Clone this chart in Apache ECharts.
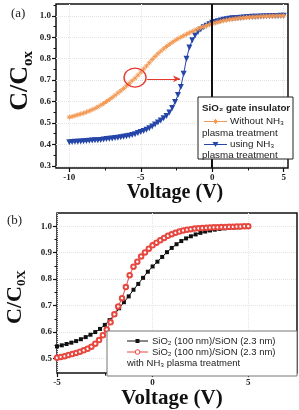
<!DOCTYPE html>
<html>
<head>
<meta charset="utf-8">
<script src="https://cdn.jsdelivr.net/npm/echarts@6/dist/echarts.min.js"></script>
<style>
  html,body{margin:0;padding:0;background:#fff;}
  #chart{width:299px;height:410px;}
</style>
</head>
<body>
<div id="chart"></div>
<script>
// panel (a): C/Cox vs gate voltage, SiO2 gate insulator
var voltA = [-10,-9.8,-9.6,-9.4,-9.2,-9,-8.8,-8.6,-8.4,-8.2,
  -8,-7.8,-7.6,-7.4,-7.2,-7,-6.8,-6.6,-6.4,-6.2,
  -6,-5.8,-5.6,-5.4,-5.2,-5,-4.8,-4.6,-4.4,-4.2,
  -4,-3.8,-3.6,-3.4,-3.2,-3,-2.8,-2.6,-2.4,-2.2,
  -2,-1.8,-1.6,-1.4,-1.2,-1,-0.8,-0.6,-0.4,-0.2,
  0,0.2,0.4,0.6,0.8,1,1.2,1.4,1.6,1.8,
  2,2.2,2.4,2.6,2.8,3,3.2,3.4,3.6,3.8,
  4,4.2,4.4,4.6,4.8,5];
var withoutNH3 = [0.527,0.530,0.534,0.538,0.542,0.546,0.551,0.556,0.562,0.568,
  0.575,0.583,0.591,0.600,0.609,0.619,0.629,0.640,0.650,0.661,
  0.673,0.685,0.697,0.709,0.723,0.737,0.752,0.766,0.781,0.796,
  0.810,0.823,0.835,0.846,0.857,0.867,0.876,0.885,0.893,0.900,
  0.907,0.914,0.921,0.927,0.933,0.939,0.944,0.949,0.954,0.959,
  0.963,0.967,0.971,0.974,0.977,0.980,0.982,0.984,0.986,0.988,
  0.990,0.991,0.992,0.993,0.994,0.995,0.996,0.997,0.997,0.998,
  0.998,0.999,0.999,1.000,1.000,1.001];
var usingNH3 = [0.410,0.411,0.412,0.413,0.414,0.415,0.416,0.417,0.418,0.419,
  0.420,0.421,0.423,0.425,0.426,0.428,0.430,0.431,0.433,0.436,
  0.438,0.441,0.444,0.448,0.453,0.458,0.463,0.469,0.476,0.484,
  0.493,0.502,0.512,0.522,0.533,0.549,0.570,0.598,0.630,0.668,
  0.730,0.800,0.852,0.886,0.908,0.924,0.936,0.946,0.954,0.961,
  0.967,0.971,0.975,0.978,0.981,0.984,0.986,0.988,0.989,0.990,
  0.991,0.992,0.993,0.994,0.995,0.996,0.996,0.997,0.997,0.998,
  0.998,0.999,0.999,0.999,1.000,1.000];

// panel (b): SiO2 (100 nm)/SiON (2.3 nm)
var voltB1 = [-5,-4.75,-4.5,-4.25,-4,-3.75,-3.5,-3.25,-3,-2.75,
  -2.5,-2.25,-2,-1.75,-1.5,-1.25,-1,-0.75,-0.5,-0.25,
  0,0.25,0.5,0.75,1,1.25,1.5,1.75,2,2.25,
  2.5,2.75,3,3.25,3.5,3.75,4,4.25,4.5,4.75,5];
var sion = [0.546,0.550,0.555,0.560,0.566,0.573,0.581,0.590,0.600,0.612,
  0.627,0.645,0.665,0.690,0.713,0.735,0.760,0.782,0.805,0.828,
  0.848,0.866,0.884,0.902,0.918,0.932,0.944,0.954,0.962,0.969,
  0.975,0.980,0.984,0.987,0.990,0.992,0.994,0.995,0.996,0.997,0.998];
var voltB2 = [-5,-4.8,-4.6,-4.4,-4.2,-4,-3.8,-3.6,-3.4,-3.2,
  -3,-2.8,-2.6,-2.4,-2.2,-2,-1.8,-1.6,-1.4,-1.2,
  -1,-0.8,-0.6,-0.4,-0.2,0,0.2,0.4,0.6,0.8,
  1,1.2,1.4,1.6,1.8,2,2.2,2.4,2.6,2.8,
  3,3.2,3.4,3.6,3.8,4,4.2,4.4,4.6,4.8,5];
var sionNH3 = [0.503,0.506,0.509,0.513,0.517,0.521,0.526,0.531,0.537,0.545,
  0.556,0.570,0.588,0.610,0.637,0.667,0.697,0.728,0.770,0.815,
  0.847,0.866,0.886,0.901,0.915,0.928,0.938,0.947,0.956,0.964,
  0.970,0.975,0.980,0.984,0.987,0.989,0.991,0.992,0.993,0.994,
  0.995,0.996,0.996,0.997,0.997,0.998,0.998,0.999,0.999,1.000,1.000];

// tick labels
var xTicksA = [-10,-5,0,5];
var xMinorA = [-7.5,-2.5,2.5];
var yTicksA = [0.3,0.4,0.5,0.6,0.7,0.8,0.9,1.0];
var yMinorA = [0.35,0.45,0.55,0.65,0.75,0.85,0.95,1.05];
var xTicksB = [-5,0,5];
var xMinorB = [-2.5,2.5,7.5];
var yTicksB = [0.5,0.6,0.7,0.8,0.9,1.0];
var yMinorB = [0.55,0.65,0.75,0.85,0.95];

// annotation in panel (a): circled point and arrow
var circleAt = [-5.4, 0.712];
var arrowFrom = [-4.55, 0.706];
var arrowTo = [-2.25, 0.706];

var serif = 'Liberation Serif';
var sans = 'Liberation Sans';
var ORANGE = '#f39a55', BLUE = '#2546a8', RED = '#e8473f';

function pairs(xs, ys){ return xs.map(function(x, i){ return [x, ys[i]]; }); }

function mainAxis(grid, pos, min, max, ticks, fmt){
  return {
    type:'value', gridIndex:grid, position:pos, min:min, max:max,
    axisLine:{show:false, onZero:false},
    axisTick:{show:true, customValues:ticks, length:4, lineStyle:{color:'#111', width:1.2}},
    axisLabel:{customValues:ticks, formatter:fmt, fontFamily:serif, fontWeight:'bold', fontSize:9, color:'#222', margin:5},
    splitLine:{show:true, lineStyle:{color:'#e4e4e4', type:'dotted'}}
  };
}
function minorAxis(grid, pos, min, max, ticks){
  return {
    type:'value', gridIndex:grid, position:pos, min:min, max:max,
    axisLine:{show:false, onZero:false},
    axisTick:{show:true, customValues:ticks, length:2.5, lineStyle:{color:'#111', width:1}},
    axisLabel:{show:false}, splitLine:{show:false}
  };
}
var fmt1 = function(v){ return v.toFixed(1); };
var fmt0 = function(v){ return String(v); };

var xA = mainAxis(0, 'bottom', -10.93, 5.3, xTicksA, fmt0);
xA.name = 'Voltage (V)'; xA.nameLocation = 'middle'; xA.nameGap = 13;
xA.nameTextStyle = {fontFamily:serif, fontWeight:'bold', fontSize:20, color:'#111', padding:[0,0,0,6]};
var xB = mainAxis(1, 'bottom', -5, 7.55, xTicksB, fmt0);
xB.name = 'Voltage (V)'; xB.nameLocation = 'middle'; xB.nameGap = 11;
xB.nameTextStyle = {fontFamily:serif, fontWeight:'bold', fontSize:21, color:'#111', padding:[0,10,0,0]};

function yName(x, y, main, sub, big, small){
  return {
    type:'group', x:x, y:y, rotation:Math.PI/2,
    children:[
      {type:'text', style:{text:main, x:0, y:0, fontFamily:serif, fontWeight:'bold', fontSize:big, fill:'#111', align:'right', verticalAlign:'middle'}},
      {type:'text', style:{text:sub, x:0, y:big*0.3, fontFamily:serif, fontWeight:'bold', fontSize:small, fill:'#111', align:'left', verticalAlign:'middle'}}
    ]
  };
}
function txt(t, x, y, size, bold){
  return {type:'text', z:101, style:{text:t, x:x, y:y, fontFamily:sans, fontWeight:bold ? 'bold' : 'normal', fontSize:size, fill:'#222', verticalAlign:'middle'}};
}
function seg(x1, y1, x2, y2, color){
  return {type:'line', z:101, shape:{x1:x1, y1:y1, x2:x2, y2:y2}, style:{stroke:color, lineWidth:1}};
}

var legendA = {
  type:'group', z:100,
  children:[
    {type:'rect', z:100, shape:{x:198, y:97, width:95, height:62}, style:{fill:'#fff', stroke:'#222', lineWidth:1}},
    txt('SiO\u2082 gate insulator', 202, 108, 9.8, true),
    seg(204, 121.5, 227, 121.5, ORANGE),
    seg(215.5, 119, 215.5, 124, ORANGE),
    seg(213.7, 119.7, 217.3, 123.3, ORANGE),
    seg(213.7, 123.3, 217.3, 119.7, ORANGE),
    txt('Without NH\u2083', 230, 121.5, 9.8),
    txt('plasma treatment', 202, 133, 9.8),
    seg(204, 144.5, 227, 144.5, BLUE),
    {type:'polygon', z:101, shape:{points:[[212.5,142],[218.5,142],[215.5,147]]}, style:{fill:BLUE}},
    txt('using NH\u2083', 230, 144.5, 9.8),
    txt('plasma treatment', 202, 155, 9.8)
  ]
};
var legendB = {
  type:'group', z:100,
  children:[
    {type:'rect', z:100, shape:{x:107, y:331, width:190, height:45}, style:{fill:'#fff', stroke:'#777', lineWidth:1}},
    seg(127, 341, 148, 341, '#111'),
    {type:'rect', z:101, shape:{x:135.5, y:339, width:4, height:4}, style:{fill:'#111'}},
    txt('SiO\u2082 (100 nm)/SiON (2.3 nm)', 152, 341, 9.5),
    seg(127, 352, 148, 352, RED),
    {type:'circle', z:101, shape:{cx:137.5, cy:352, r:2.3}, style:{fill:'#fff', stroke:RED, lineWidth:1}},
    txt('SiO\u2082 (100 nm)/SiON (2.3 nm)', 152, 352, 9.5),
    txt('with NH\u2083 plasma treatment', 127, 363.5, 9.5)
  ]
};

var chart = echarts.init(document.getElementById('chart'), null, {renderer:'canvas'});
chart.setOption({
  animation:false,
  backgroundColor:'#fff',
  grid:[
    {left:56, top:4, width:232, height:164, show:true, borderColor:'#111', borderWidth:1.5, backgroundColor:'transparent'},
    {left:57, top:213, width:240, height:163, show:true, borderColor:'#111', borderWidth:1.5, backgroundColor:'transparent'}
  ],
  xAxis:[
    xA, minorAxis(0, 'bottom', -10.93, 5.3, xMinorA),
    xB, minorAxis(1, 'bottom', -5, 7.55, xMinorB)
  ],
  yAxis:[
    mainAxis(0, 'left', 0.29, 1.055, yTicksA, fmt1), minorAxis(0, 'left', 0.29, 1.055, yMinorA),
    mainAxis(1, 'left', 0.445, 1.05, yTicksB, fmt1), minorAxis(1, 'left', 0.445, 1.05, yMinorB)
  ],
  series:[
    {
      type:'line', name:'using NH3', xAxisIndex:0, yAxisIndex:0, data:pairs(voltA, usingNH3),
      symbol:'triangle', symbolRotate:180, symbolSize:6,
      lineStyle:{color:BLUE, width:1}, itemStyle:{color:BLUE},
      markLine:{silent:true, symbol:'none', label:{show:false},
        lineStyle:{color:'#111', width:2, type:'solid'}, data:[{xAxis:0}]}
    },
    {
      type:'line', name:'Without NH3', xAxisIndex:0, yAxisIndex:0, data:pairs(voltA, withoutNH3),
      symbol:'path://M5,0L5,10M0,5L10,5M1.5,1.5L8.5,8.5M1.5,8.5L8.5,1.5', symbolSize:5,
      lineStyle:{color:ORANGE, width:1}, itemStyle:{color:ORANGE, borderColor:ORANGE, borderWidth:1},
      markPoint:{silent:true, label:{show:false}, symbol:'circle', symbolSize:[22,19],
        itemStyle:{color:'rgba(0,0,0,0)', borderColor:'#e53a2f', borderWidth:1.3},
        data:[{coord:circleAt}]},
      markLine:{silent:true, symbol:['none','arrow'], symbolSize:[5,7], label:{show:false},
        lineStyle:{color:'#e53a2f', width:1.2, type:'solid'},
        data:[[{coord:arrowFrom}, {coord:arrowTo}]]}
    },
    {
      type:'line', name:'SiON', xAxisIndex:2, yAxisIndex:2, data:pairs(voltB1, sion),
      symbol:'rect', symbolSize:4,
      lineStyle:{color:'#111', width:1}, itemStyle:{color:'#111'}
    },
    {
      type:'line', name:'SiON NH3', xAxisIndex:2, yAxisIndex:2, data:pairs(voltB2, sionNH3),
      symbol:'emptyCircle', symbolSize:4.5,
      lineStyle:{color:RED, width:1}, itemStyle:{color:RED, borderWidth:0.9}
    }
  ],
  graphic:[
    {type:'text', style:{text:'(a)', x:11, y:14, fontFamily:serif, fontSize:13, fill:'#222', verticalAlign:'middle'}},
    {type:'text', style:{text:'(b)', x:7, y:221, fontFamily:serif, fontSize:13, fill:'#222', verticalAlign:'middle'}},
    yName(20, 66, 'C/C', 'ox', 26, 15),
    yName(15, 286, 'C/C', '0X', 22, 13),
    legendA,
    legendB
  ]
});
</script>
</body>
</html>
